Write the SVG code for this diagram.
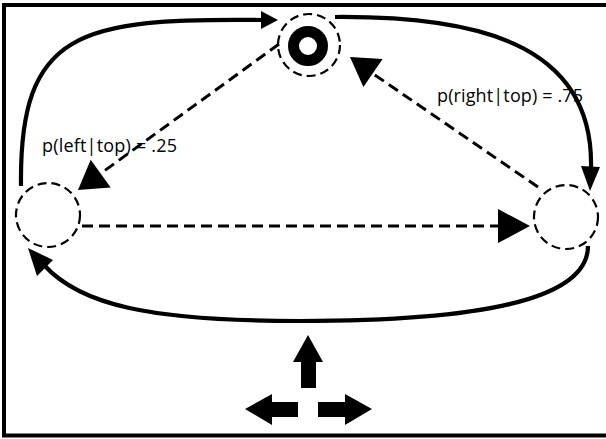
<svg xmlns="http://www.w3.org/2000/svg" width="606" height="439" viewBox="0 0 606 439">
  <style>
    .state { fill: none; stroke: #000; stroke-width: 2.2; stroke-dasharray: 9 5; }
    .goal { fill: none; stroke: #000; stroke-width: 11; }
    .arc { fill: none; stroke: #000; stroke-width: 4.2; stroke-linecap: butt; }
    .move { fill: none; stroke: #000; stroke-width: 3; stroke-dasharray: 11 6; }
    .head { fill: #000; stroke: none; }
    .label { font-family: "Open Sans", "Liberation Sans", sans-serif; font-size: 18px; fill: #000; }
  </style>

  <rect x="0" y="0" width="606" height="439" fill="#fff"/>
  <!-- outer frame -->
  <rect x="4" y="5" width="604" height="430.5" fill="none" stroke="#000" stroke-width="4"/>

  <!-- transitions -->
  <g id="connectors">
    <!-- solid cycle: left -> top -> right -> left -->
    <path class="arc" d="M21,186 C19,30 80,18 262,20"/>
    <polygon class="head" points="278,20 261,11 261,29"/>
    <path class="arc" d="M335,17 C470,16 594,40 591,168"/>
    <polygon class="head" points="590,191 581,166 600,167"/>
    <path class="arc" d="M588,246 C588,300 480,321 300,321 C150,321 80,305 44,265"/>
    <polygon class="head" points="28,248 53,260 37,276"/>

    <!-- dashed choices -->
    <path class="move" d="M279,44 L100,174"/>
    <polygon class="head" points="78,190 110.7,187.4 90.7,159.8"/>
    <path class="move" d="M538,187 L372,73"/>
    <polygon class="head" points="350,57 382.6,59 363.4,87"/>
    <path class="move" d="M82,226 L500,226"/>
    <polygon class="head" points="530,226 498,209 498,243"/>
  </g>

  <!-- states -->
  <g id="node-top">
    <circle class="state" cx="309" cy="45" r="31"/>
    <circle class="goal" cx="308" cy="46" r="14.5"/>
  </g>
  <g id="node-left">
    <circle class="state" cx="48" cy="215" r="32"/>
  </g>
  <g id="node-right">
    <circle class="state" cx="566" cy="217" r="32"/>
  </g>

  <!-- probabilities -->
  <text class="label" x="42" y="152" textLength="135" lengthAdjust="spacing">p(left|top) = .25</text>
  <text class="label" x="437" y="102" textLength="146" lengthAdjust="spacing">p(right|top) = .75</text>

  <!-- action legend -->
  <g id="actions">
    <polygon class="head" points="308,335 323,362 316,362 316,388 301,388 301,362 293,362"/>
    <polygon class="head" points="245,409 272,394 272,402 298,402 298,417 272,417 272,425"/>
    <polygon class="head" points="372,409 345,394 345,402 318,402 318,417 345,417 345,425"/>
  </g>
</svg>
